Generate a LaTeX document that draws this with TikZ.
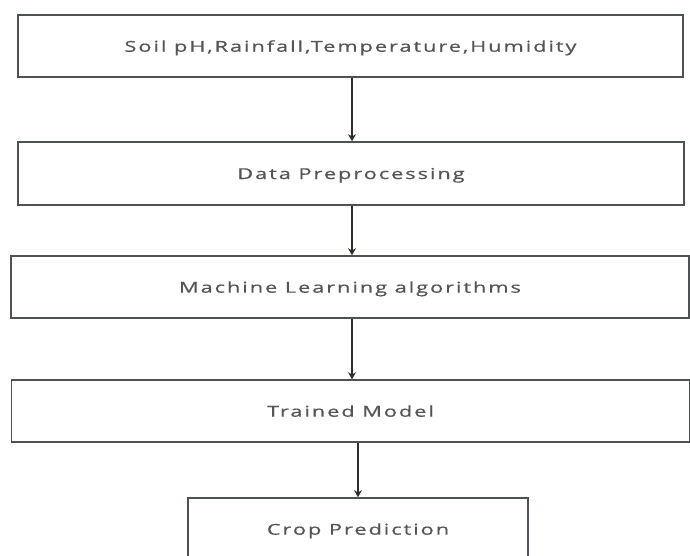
\documentclass[tikz,border=0pt]{standalone}
\usepackage{fontspec}
\setmainfont{Open Sans}[FakeStretch=1.45,LetterSpace=13,FakeBold=0.6]
\usetikzlibrary{arrows.meta}
\definecolor{boxline}{HTML}{4D5257}
\definecolor{boxtext}{HTML}{555555}
\definecolor{arrowline}{HTML}{2E2E2E}
\tikzset{
  stagebox/.style={rectangle, draw=boxline, line width=1.6pt, fill=white,
    text=boxtext, font=\fontsize{15}{18}\selectfont, inner sep=0pt, text depth=0pt},
  flowarrow/.style={-{Stealth[length=7pt,width=8pt]}, draw=arrowline, line width=1.1pt}
}
\begin{document}
\begin{tikzpicture}[x=1pt, y=-1pt]
        \useasboundingbox (0,0) rectangle (690,556);

        % Input features
        \node[stagebox, minimum width=665pt, minimum height=62pt] (features) at (350.5,46) {Soil pH,Rainfall,Temperature,Humidity};

        % Preprocessing
        \node[stagebox, minimum width=666pt, minimum height=63pt] (preprocess) at (351,173.5) {Data Preprocessing};

        % Algorithms
        \node[stagebox, minimum width=678pt, minimum height=62pt] (algorithms) at (350,287) {Machine Learning algorithms};

        % Model
        \node[stagebox, minimum width=678pt, minimum height=62pt] (model) at (350.5,411) {Trained Model};

        % Prediction
        \node[stagebox, minimum width=340pt, minimum height=62pt] (prediction) at (358,529) {Crop Prediction};

        % Connections
        \draw[flowarrow] (features.south) ++(1.5,0) coordinate (f1) -- (f1 |- preprocess.north);
        \draw[flowarrow] (preprocess.south) ++(1,0) coordinate (p1) -- (p1 |- algorithms.north);
        \draw[flowarrow] (algorithms.south) ++(2,0) coordinate (a1) -- (a1 |- model.north);
        \draw[flowarrow] (model.south -| prediction.north) -- (prediction.north);
    \end{tikzpicture}
\end{document}
